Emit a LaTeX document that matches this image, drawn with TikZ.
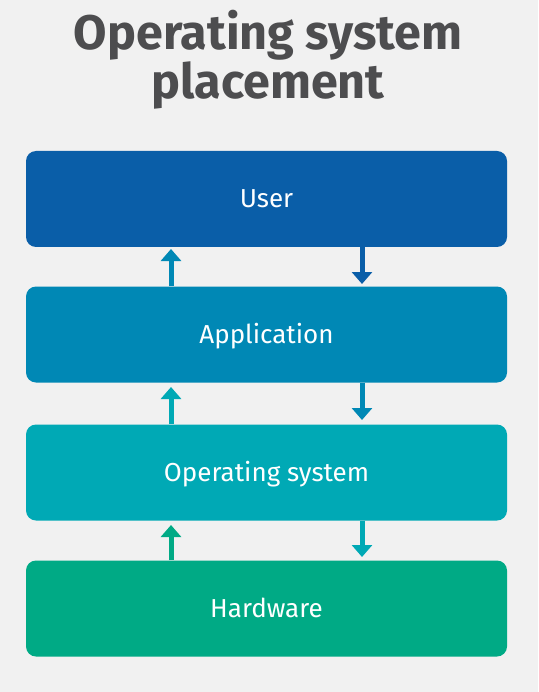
\documentclass[tikz,border=0pt]{standalone}
\usepackage{fontspec}
\setmainfont{Fira Sans}
\usetikzlibrary{arrows.meta}
\definecolor{bgc}{HTML}{F1F1F1}
\definecolor{titlec}{HTML}{4D4D4F}
\definecolor{userc}{HTML}{0A5EA8}
\definecolor{appc}{HTML}{0088B5}
\definecolor{osc}{HTML}{00A9B5}
\definecolor{hwc}{HTML}{00AA85}
\tikzset{
  layer/.style={fill=#1, rounded corners=10pt, minimum width=481pt, minimum height=96pt,
    inner sep=0pt, text=white, text height=21pt, text depth=4pt, font=\fontsize{26}{28}\selectfont},
  flow/.style={draw=#1, line width=5pt, -{Triangle[width=20pt,length=12pt]}, shorten >=-1pt},
}
\begin{document}
\begin{tikzpicture}[x=1pt,y=-1pt]
\fill[bgc] (0,0) rectangle (538,692);
\useasboundingbox (0,0) rectangle (538,692);
\node[text=titlec, font=\fontsize{48.5}{45}\selectfont\bfseries, align=center] (title) at (268,60) {Operating system\\placement};
\node[layer=userc] (user) at (266.5,199) {User};
\node[layer=appc] (app) at (266.5,334.5) {Application};
\node[layer=osc] (os) at (266.5,472.5) {Operating system};
\node[layer=hwc] (hw) at (266.5,608.5) {Hardware};
\coordinate (u1) at (171,250);
\coordinate (d1) at (362,283);
\coordinate (u2) at (171,388);
\coordinate (d2) at (362,419);
\coordinate (u3) at (171,526);
\coordinate (d3) at (362,556);
\draw[flow=appc] (app.north -| u1) -- (u1);
\draw[flow=userc] (user.south -| d1) -- (d1);
\draw[flow=osc] (os.north -| u2) -- (u2);
\draw[flow=appc] (app.south -| d2) -- (d2);
\draw[flow=hwc] (hw.north -| u3) -- (u3);
\draw[flow=osc] (os.south -| d3) -- (d3);
\end{tikzpicture}
\end{document}
